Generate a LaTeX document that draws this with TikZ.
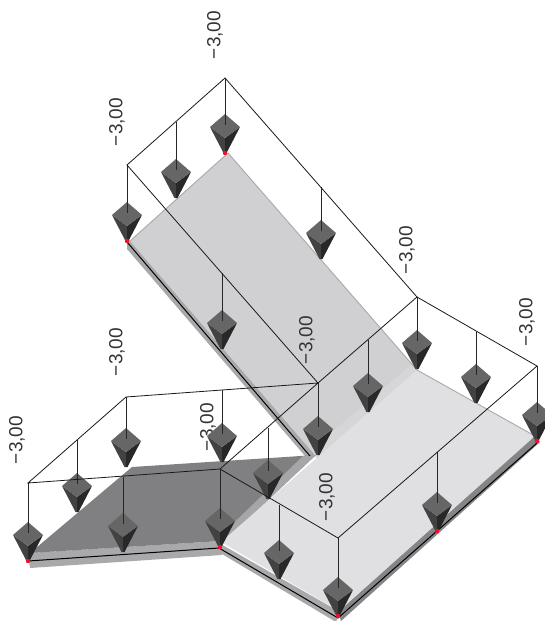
\documentclass[tikz,border=0pt]{standalone}
\usepackage{fontspec}
\setmainfont{Liberation Sans}
\definecolor{wingup}{HTML}{D0D0D2}
\definecolor{wingright}{HTML}{E0E0E2}
\definecolor{wingleft}{HTML}{808082}
\definecolor{fold}{HTML}{D6D6D8}
\definecolor{foldleft}{HTML}{A6A6A8}
\definecolor{edgelight}{HTML}{A9A9AB}
\definecolor{edgedark}{HTML}{858587}
\definecolor{conetop}{HTML}{666666}
\definecolor{coneleft}{HTML}{424242}
\definecolor{coneright}{HTML}{282828}
\definecolor{pointred}{HTML}{F0102A}
\tikzset{
    framelines/.style={draw=black!90, line width=.8pt},
    hanger/.style={draw=black!85, line width=1pt},
    wingedge/.style={draw=edgelight, line width=.9pt},
    loadvalue/.style={rotate=90, text=black!80, inner sep=0pt, font=\fontsize{19}{19}\selectfont},
    loadcone/.pic={
        \fill[coneleft] (-1.5,0) -- (-15,-26) -- (0,-15) -- (0,0) -- cycle;
        \fill[coneright] (1.5,0) -- (15,-26) -- (0,-15) -- (0,0) -- cycle;
        \fill[conetop] (0,-39) -- (15,-26) -- (0,-15) -- (-15,-26) -- cycle;
    }
}
\begin{document}
\begin{tikzpicture}[x=1pt, y=-1pt]
    \useasboundingbox (0,0) rectangle (544,621);
    % slabs
    \fill[edgelight] (127,242) -- (127,249) -- (305,456) -- (316,456) -- (130,240) -- cycle;
    \fill[edgelight] (28,553) -- (30,568) -- (222,555) -- (221,541) -- cycle;
    \fill[edgelight] (219,543) -- (222,554) -- (336,622) -- (340,612) -- cycle;
    \fill[edgedark] (535,435) -- (540,442) -- (341,621) -- (338,612) -- cycle;
    \fill[wingup] (130,241) -- (228,153) -- (417,370) -- (418,374) -- (318,461) -- (316,456) -- cycle;
    \fill[fold] (417,370) -- (412,364) -- (312,449) -- (318,461) -- cycle;
    \fill[wingleft] (30,553) -- (132,467) -- (316,455) -- (221,541) -- cycle;
    \fill[foldleft] (316,455) -- (303,456) -- (217,539) -- (222,544) -- cycle;
    \fill[wingright] (417,370) -- (535,436) -- (339,611) -- (221,542) -- cycle;
    \draw[wingedge] (130,241) -- (228,153) -- (417,370) -- (535,436);
    \draw[black, line width=1pt] (127,242) -- (310,456);
    \draw[black, line width=1pt] (28,561) -- (219,548) -- (338,618) -- (537,443);
    % labels
    \node[loadvalue] (val1) at (215,35) {−3,00};
    \node[loadvalue] (val2) at (117,122) {−3,00};
    \node[loadvalue] (val3) at (407,250) {−3,00};
    \node[loadvalue] (val4) at (307,340) {−3,00};
    \node[loadvalue] (val5) at (117,352) {−3,00};
    \node[loadvalue] (val6) at (527,322) {−3,00};
    \node[loadvalue] (val7) at (17,440) {−3,00};
    \node[loadvalue] (val8) at (208,427) {−3,00};
    \node[loadvalue] (val9) at (327,497) {−3,00};
    % loads
    \foreach \n/\tipx/\tipy/\topy in {1/127/241/165, 2/176/198/122, 3/225/153/78, 4/321/259/187,
            5/222/349/273, 6/318/455/383, 7/368/412/340, 8/417/369/297, 9/476/403/332,
            10/537/441/366, 11/437/531/452, 12/338/616/538, 13/279/579/505, 14/220/547/469,
            15/123/552/477, 16/28/561/483, 17/77/512/440, 18/126/467/397, 19/222/462/390,
            20/268/499/428} {
        \coordinate (tip\n) at (\tipx,\tipy);
        \coordinate (seat\n) at (\tipx,\tipy-28);
        \coordinate (top\n) at (\tipx,\topy);
        \pic at (tip\n) {loadcone};
        \draw[hanger] (top\n) -- (seat\n);
    }
    % frames of the load
    \draw[framelines] (top1) -- (top3) -- (top8) -- (top6) -- cycle;
    \draw[framelines] (top16) -- (top18) -- (top6) -- (top14) -- cycle;
    \draw[framelines] (top8) -- (top10) -- (top12) -- (top14);
    % points
    \foreach \n in {1,3,16,14,12,11,10} {
        \fill[pointred] (tip\n) circle (2.2);
    }
\end{tikzpicture}
\end{document}
